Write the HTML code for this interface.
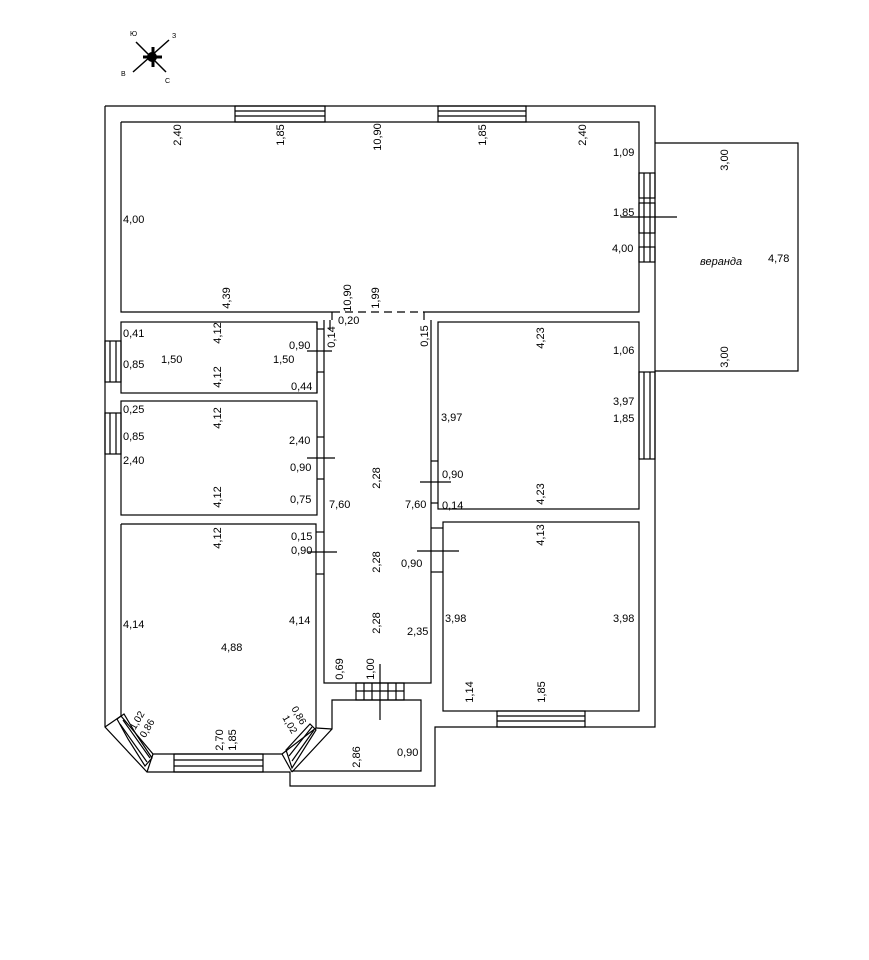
<!DOCTYPE html>
<html><head><meta charset="utf-8"><style>
html,body{margin:0;padding:0;background:#fff;}
svg{display:block;}
text{font-family:"Liberation Sans",sans-serif;font-size:11px;fill:#000;}
</style></head><body>
<svg width="869" height="960" viewBox="0 0 869 960" xmlns="http://www.w3.org/2000/svg">
<g fill="none" stroke="#000" stroke-width="1.2">
<!-- outer outline -->
<polyline points="105,106 655,106 655,727 435,727 435,786 290,786 290,772 147,772 105,727 105,106"/>
<!-- veranda -->
<polyline points="655,143 798,143 798,371 655,371"/>
<line x1="621" y1="217" x2="677" y2="217"/>
<!-- living room -->
<polyline points="121,122 639,122 639,312 424,312 424,320"/>
<polyline points="332,312 121,312 121,122"/>
<line x1="332" y1="312" x2="424" y2="312" stroke-dasharray="8,5"/>
<line x1="332" y1="312" x2="332" y2="320"/>
<!-- left small rooms -->
<rect x="121" y="322" width="196" height="71"/>
<rect x="121" y="401" width="196" height="114"/>
<!-- bottom-left bay room -->
<polyline points="121,524 316,524 316,728 282,754 153,754 121,716 121,524"/>
<line x1="105" y1="727" x2="121" y2="716"/>
<line x1="147" y1="772" x2="153" y2="754"/>
<line x1="282" y1="754" x2="292" y2="772"/>
<line x1="316" y1="728" x2="332" y2="729"/>
<!-- corridor -->
<polyline points="324,320 324,683 431,683 431,320"/>
<line x1="317" y1="322" x2="317" y2="329"/><line x1="317" y1="372" x2="317" y2="393"/>
<line x1="317" y1="329" x2="324" y2="329"/><line x1="317" y1="372" x2="324" y2="372"/>
<line x1="317" y1="437" x2="324" y2="437"/><line x1="317" y1="479" x2="324" y2="479"/>
<line x1="316" y1="532" x2="324" y2="532"/><line x1="316" y1="574" x2="324" y2="574"/>
<!-- vestibule -->
<polyline points="292,772 332,729 332,700 421,700 421,771 292,771"/>
<rect x="356" y="683" width="48" height="17"/>
<line x1="364" y1="683" x2="364" y2="700"/><line x1="372" y1="683" x2="372" y2="700"/>
<line x1="388" y1="683" x2="388" y2="700"/><line x1="396" y1="683" x2="396" y2="700"/>
<line x1="356" y1="691" x2="404" y2="691"/>
<line x1="380" y1="664" x2="380" y2="720"/>
<!-- right rooms -->
<rect x="438" y="322" width="201" height="187"/>
<rect x="443" y="522" width="196" height="189"/>
<line x1="431" y1="461" x2="438" y2="461"/><line x1="431" y1="503" x2="438" y2="503"/>
<line x1="431" y1="528" x2="443" y2="528"/><line x1="431" y1="572" x2="443" y2="572"/>
<!-- door swings -->
<line x1="307" y1="351" x2="332" y2="351"/>
<line x1="307" y1="458" x2="335" y2="458"/>
<line x1="308" y1="552" x2="337" y2="552"/>
<line x1="420" y1="482" x2="451" y2="482"/>
<line x1="417" y1="551" x2="459" y2="551"/>
<line x1="330" y1="320" x2="330" y2="330"/>
<!-- windows top -->
<rect x="235" y="106" width="90" height="16"/><line x1="235" y1="111" x2="325" y2="111"/><line x1="235" y1="116" x2="325" y2="116"/>
<rect x="438" y="106" width="88" height="16"/><line x1="438" y1="111" x2="526" y2="111"/><line x1="438" y1="116" x2="526" y2="116"/>
<!-- right windows -->
<rect x="639" y="173" width="16" height="25"/><rect x="639" y="203" width="16" height="30"/><rect x="639" y="247" width="16" height="15"/>
<line x1="644" y1="173" x2="644" y2="262"/><line x1="650" y1="173" x2="650" y2="262"/>
<rect x="639" y="372" width="16" height="87"/><line x1="644" y1="372" x2="644" y2="459"/><line x1="650" y1="372" x2="650" y2="459"/>
<!-- left windows -->
<rect x="105" y="341" width="16" height="41"/><line x1="110" y1="341" x2="110" y2="382"/><line x1="116" y1="341" x2="116" y2="382"/>
<rect x="105" y="413" width="16" height="41"/><line x1="110" y1="413" x2="110" y2="454"/><line x1="116" y1="413" x2="116" y2="454"/>
<!-- bottom windows -->
<rect x="174" y="754" width="89" height="18"/><line x1="174" y1="760" x2="263" y2="760"/><line x1="174" y1="766" x2="263" y2="766"/>
<rect x="497" y="711" width="88" height="16"/><line x1="497" y1="716" x2="585" y2="716"/><line x1="497" y1="721" x2="585" y2="721"/>
<!-- bay windows -->
<polygon points="117,719 128,739 145,766 152,758 136,734 124,714"/>
<line x1="120" y1="724" x2="147" y2="762"/><line x1="123" y1="720" x2="150" y2="758"/>
<polygon points="286,750 310,724 316,730 292,768"/>
<line x1="289" y1="756" x2="312" y2="727"/><line x1="292" y1="761" x2="314" y2="730"/>
</g>
<!-- compass -->
<g stroke="#000" stroke-width="1.5">
<line x1="136" y1="42" x2="166" y2="72"/><line x1="133" y1="72" x2="169" y2="40"/>
<line x1="143" y1="57" x2="162" y2="57" stroke-width="3"/><line x1="153" y1="47" x2="153" y2="67" stroke-width="3"/>
</g>
<circle cx="152" cy="57" r="5" fill="#000"/>
<text x="130" y="36" style="font-size:7px">Ю</text><text x="172" y="38" style="font-size:7px">З</text>
<text x="121" y="76" style="font-size:7px">В</text><text x="165" y="83" style="font-size:7px">С</text>

<g>
<text transform="translate(181,135) rotate(-90)" text-anchor="middle">2,40</text>
<text transform="translate(284,135) rotate(-90)" text-anchor="middle">1,85</text>
<text transform="translate(381,137) rotate(-90)" text-anchor="middle">10,90</text>
<text transform="translate(486,135) rotate(-90)" text-anchor="middle">1,85</text>
<text transform="translate(586,135) rotate(-90)" text-anchor="middle">2,40</text>
<text transform="translate(230,298) rotate(-90)" text-anchor="middle">4,39</text>
<text transform="translate(351,298) rotate(-90)" text-anchor="middle">10,90</text>
<text transform="translate(379,298) rotate(-90)" text-anchor="middle">1,99</text>
<text transform="translate(335,337) rotate(-90)" text-anchor="middle">0,14</text>
<text transform="translate(428,336) rotate(-90)" text-anchor="middle">0,15</text>
<text transform="translate(221,333) rotate(-90)" text-anchor="middle">4,12</text>
<text transform="translate(221,377) rotate(-90)" text-anchor="middle">4,12</text>
<text transform="translate(221,418) rotate(-90)" text-anchor="middle">4,12</text>
<text transform="translate(221,497) rotate(-90)" text-anchor="middle">4,12</text>
<text transform="translate(221,538) rotate(-90)" text-anchor="middle">4,12</text>
<text transform="translate(380,478) rotate(-90)" text-anchor="middle">2,28</text>
<text transform="translate(380,562) rotate(-90)" text-anchor="middle">2,28</text>
<text transform="translate(380,623) rotate(-90)" text-anchor="middle">2,28</text>
<text transform="translate(544,338) rotate(-90)" text-anchor="middle">4,23</text>
<text transform="translate(544,494) rotate(-90)" text-anchor="middle">4,23</text>
<text transform="translate(544,535) rotate(-90)" text-anchor="middle">4,13</text>
<text transform="translate(343,669) rotate(-90)" text-anchor="middle">0,69</text>
<text transform="translate(374,669) rotate(-90)" text-anchor="middle">1,00</text>
<text transform="translate(473,692) rotate(-90)" text-anchor="middle">1,14</text>
<text transform="translate(545,692) rotate(-90)" text-anchor="middle">1,85</text>
<text transform="translate(223,740) rotate(-90)" text-anchor="middle">2,70</text>
<text transform="translate(236,740) rotate(-90)" text-anchor="middle">1,85</text>
<text transform="translate(360,757) rotate(-90)" text-anchor="middle">2,86</text>
<text transform="translate(728,160) rotate(-90)" text-anchor="middle">3,00</text>
<text transform="translate(728,357) rotate(-90)" text-anchor="middle">3,00</text>
<text transform="translate(140,722) rotate(-60)" text-anchor="middle" style="font-size:10px">1,02</text>
<text transform="translate(150,730) rotate(-60)" text-anchor="middle" style="font-size:10px">0,86</text>
<text transform="translate(296,717) rotate(60)" text-anchor="middle" style="font-size:10px">0,86</text>
<text transform="translate(287,726) rotate(60)" text-anchor="middle" style="font-size:10px">1,02</text>

<text x="613" y="156">1,09</text><text x="613" y="216">1,85</text><text x="612" y="252">4,00</text>
<text x="123" y="223">4,00</text><text x="338" y="324">0,20</text>
<text x="123" y="337">0,41</text><text x="289" y="349">0,90</text><text x="123" y="368">0,85</text>
<text x="161" y="363">1,50</text><text x="273" y="363">1,50</text><text x="291" y="390">0,44</text>
<text x="123" y="413">0,25</text><text x="289" y="444">2,40</text><text x="123" y="440">0,85</text>
<text x="123" y="464">2,40</text><text x="290" y="471">0,90</text><text x="290" y="503">0,75</text>
<text x="329" y="508">7,60</text><text x="405" y="508">7,60</text><text x="442" y="509">0,14</text>
<text x="613" y="354">1,06</text><text x="441" y="421">3,97</text><text x="613" y="405">3,97</text>
<text x="613" y="422">1,85</text><text x="442" y="478">0,90</text>
<text x="291" y="540">0,15</text><text x="291" y="554">0,90</text><text x="401" y="567">0,90</text>
<text x="123" y="628">4,14</text><text x="289" y="624">4,14</text><text x="221" y="651">4,88</text>
<text x="407" y="635">2,35</text><text x="445" y="622">3,98</text><text x="613" y="622">3,98</text>
<text x="397" y="756">0,90</text>
<text x="700" y="265" style="font-style:italic">веранда</text><text x="768" y="262">4,78</text>
</g>
</svg>
</body></html>
